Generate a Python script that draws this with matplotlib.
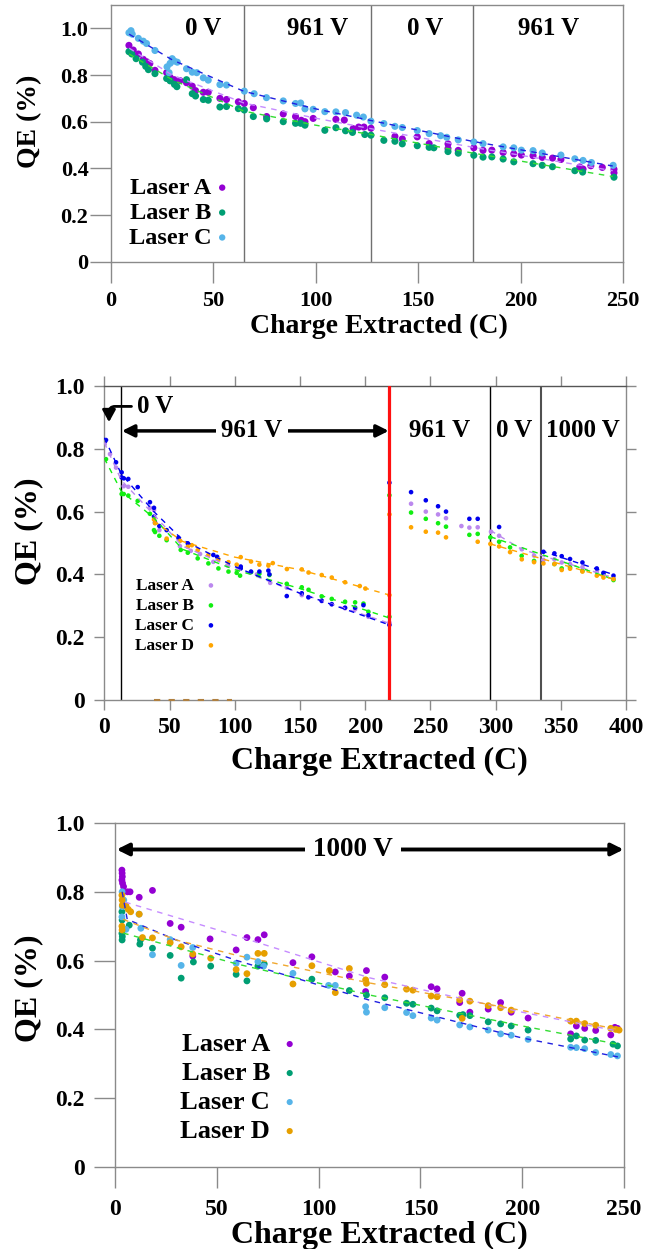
import matplotlib
matplotlib.use("Agg")
import matplotlib.pyplot as plt
import numpy as np
from matplotlib.ticker import FuncFormatter

plt.rcParams['font.family'] = ['Liberation Serif', 'DejaVu Serif']
plt.rcParams['font.weight'] = 'bold'

# ---------------- data: top panel (Lasers A-C) ----------------
top_A = [(8.9,0.927),(11,0.907),(13.5,0.89),(15.9,0.867),(17.5,0.857),(19.1,0.849),(21.6,0.82),
         (27.3,0.81),(29,0.79),(31,0.78),(33.8,0.776),(37,0.767),(39.8,0.752),(41.4,0.733),(45.2,0.726),
         (47.6,0.726),(53.3,0.70),(56.5,0.695),(62.3,0.685),(65.2,0.678),(69.6,0.66),(76.1,0.622),
         (84.2,0.633),(90.2,0.622),(93,0.606),(94.8,0.60),(98.8,0.614),(109.9,0.61),(114,0.607),
         (118.3,0.57),(121,0.577),(123.6,0.577),(127,0.572),(138.7,0.537),(142.3,0.526),(149.6,0.535),
         (155.4,0.506),(164.6,0.505),(164.6,0.485),(169.6,0.477),(177.2,0.488),(181.7,0.477),(186,0.478),
         (191.5,0.468),(196.7,0.462),(200.4,0.457),(206.1,0.454),(210.6,0.447),(215.6,0.444),(219.7,0.438),
         (228.9,0.406),(230.5,0.397),(234.3,0.411),(239.9,0.404),(245.6,0.396),(245.6,0.381)]
top_B = [(8.9,0.90),(10.3,0.89),(12.4,0.87),(15.5,0.855),(17.1,0.837),(18.4,0.823),(21.6,0.806),
         (27.3,0.785),(29,0.775),(31.1,0.76),(32.3,0.75),(37,0.78),(39.8,0.72),(41.4,0.71),(45.2,0.695),
         (47.6,0.692),(53.3,0.663),(56.5,0.665),(62.3,0.656),(65.2,0.65),(69.6,0.622),(76.1,0.612),
         (84.2,0.60),(90.2,0.593),(92.7,0.593),(94.8,0.585),(104.5,0.563),(109.9,0.574),(114.6,0.561),
         (118,0.554),(124,0.545),(127,0.542),(133.3,0.52),(138.7,0.516),(142.3,0.505),(149.6,0.497),
         (155.4,0.49),(157.7,0.488),(164.6,0.472),(169.6,0.465),(177.2,0.456),(181.7,0.448),(186,0.449),
         (191.5,0.44),(196.7,0.428),(206.1,0.42),(210.6,0.413),(215.6,0.407),(226.5,0.39),(230.3,0.384),
         (245.6,0.362)]
top_C = [(8.9,0.981),(9.9,0.99),(10.5,0.975),(13.5,0.957),(15.9,0.945),(17.5,0.935),(21.6,0.905),
         (27.5,0.835),(28.5,0.81),(29,0.85),(30,0.87),(31,0.86),(32.5,0.855),(37,0.827),(39.8,0.812),
         (42,0.81),(45.2,0.788),(47.6,0.778),(53.3,0.759),(56.5,0.757),(65.2,0.731),(70,0.72),(76,0.703),
         (84.2,0.689),(90.2,0.678),(92.7,0.68),(94.8,0.655),(98.8,0.653),(104.5,0.643),(109.9,0.642),
         (114.6,0.639),(120,0.628),(123.3,0.62),(127,0.602),(133.3,0.592),(138.7,0.58),(142.3,0.575),
         (149.6,0.562),(155.4,0.549),(161,0.54),(164,0.533),(169.6,0.522),(177.2,0.513),(181.7,0.506),
         (191.5,0.492),(196.7,0.488),(200.4,0.478),(206.1,0.476),(210.6,0.466),(219.7,0.457),(226.5,0.441),
         (230.5,0.434),(234.6,0.425),(245.2,0.413)]
top_fit_x = [9, 30, 65, 100, 127, 177, 245]
top_fit_A = [0.915, 0.80, 0.68, 0.615, 0.57, 0.49, 0.39]
top_fit_B = [0.89, 0.78, 0.645, 0.585, 0.545, 0.465, 0.365]
top_fit_C = [0.975, 0.865, 0.73, 0.655, 0.605, 0.515, 0.41]
top_bounds = [65, 127, 177]
top_labels = [(45, '0 V'), (101, '961 V'), (153.5, '0 V'), (213.5, '961 V')]

# ---------------- data: middle panel (Lasers A-D) ----------------
mid_A = [(0.3,0.815),(4.4,0.783),(9,0.74),(14.9,0.681),(18.4,0.679),(35,0.612),(38.1,0.605),(42.2,0.541),
         (58,0.49),(66.3,0.475),(73.4,0.465),(83.6,0.44),(94.6,0.428),(102.8,0.418),(117,0.40),(127.2,0.373),
         (139.9,0.358),(151.4,0.334),(156.6,0.328),(166.7,0.315),(174.4,0.305),(184.6,0.292),(192.3,0.289),
         (202.5,0.265),(218.6,0.246),
         (235.2,0.625),(246.5,0.60),(255.9,0.591),(262,0.579),(273.8,0.554),(279.9,0.549),(286.3,0.55),
         (296.5,0.536),(302.7,0.523),(320.1,0.48),(329.5,0.46),(336.7,0.446),(345.1,0.448),(350.7,0.438),
         (357.1,0.433),(366.6,0.423),(377.6,0.408),(382.7,0.398),(390.4,0.388)]
mid_B = [(1.3,0.767),(13.3,0.656),(14.9,0.656),(18.4,0.651),(25.6,0.634),(35,0.593),(38.1,0.541),(38.9,0.535),
         (42.2,0.523),(47.8,0.509),(58.6,0.478),(64,0.469),(71.6,0.451),(79.8,0.435),(87.5,0.419),(95.2,0.409),
         (101.5,0.405),(104.1,0.396),(112.5,0.407),(118.9,0.402),(126.6,0.398),(139.9,0.37),(151.4,0.359),
         (156.6,0.351),(166.7,0.33),(174.4,0.322),(184.6,0.313),(192.3,0.311),(198.7,0.307),(202.5,0.281),
         (218.6,0.265),(218.6,0.652),
         (235.2,0.597),(246.5,0.577),(255.9,0.563),(262,0.552),(279.9,0.526),(286.3,0.529),(296,0.518),
         (302.7,0.504),(311.1,0.486),(320,0.459),(329.5,0.443),(345.1,0.433),(350.7,0.419),(357.1,0.422),
         (366.6,0.411),(382.7,0.401),(390.4,0.382)]
mid_C = [(1.3,0.828),(9,0.757),(13.3,0.725),(13.3,0.709),(14.9,0.706),(18.4,0.704),(25.6,0.678),(35,0.63),
         (38.1,0.612),(38.1,0.584),(38.9,0.565),(42.2,0.554),(47.8,0.541),(56.8,0.517),(64,0.499),(83.6,0.462),
         (86.5,0.456),(104.6,0.419),(104.6,0.425),(112.5,0.409),(118.9,0.409),(125.8,0.412),(126.6,0.40),
         (139.9,0.331),(151.4,0.34),(156.5,0.327),(166.7,0.316),(174.4,0.305),(184.6,0.294),(192.3,0.294),
         (198.7,0.302),(202.5,0.27),(218.6,0.239),(218.6,0.692),
         (235.2,0.662),(246.5,0.636),(255.9,0.617),(262,0.60),(279.9,0.577),(286.3,0.577),(302.7,0.551),
         (336.7,0.472),(345.1,0.467),(350.7,0.458),(357.1,0.449),(366.6,0.438),(377.6,0.419),(382.7,0.405),
         (390.4,0.396)]
mid_D = [(38.1,0.575),(38.9,0.563),(47.8,0.514),(58.1,0.507),(64,0.488),(67.1,0.493),(71.6,0.477),(79.8,0.462),
         (87.5,0.448),(95.2,0.439),(101.5,0.431),(104.6,0.455),(112.5,0.441),(118.9,0.431),(125.8,0.428),
         (129.2,0.436),(140,0.417),(151.4,0.416),(156.6,0.406),(166.7,0.398),(174.4,0.39),(184.6,0.375),
         (195.9,0.363),(200.2,0.355),(218.6,0.334),(218.6,0.591),
         (235.2,0.55),(246.5,0.536),(255.9,0.533),(262,0.518),(286.3,0.504),(296,0.497),(302.7,0.489),
         (311.1,0.471),(320.1,0.448),(329.5,0.439),(336.7,0.435),(345.1,0.433),(350.7,0.414),(357.1,0.418),
         (366.6,0.409),(377.6,0.396),(382.7,0.39),(390.4,0.385)]
mid_fit1_x = [0, 13, 38, 60, 100, 150, 218]
mid_fit1_A = [0.82, 0.70, 0.59, 0.49, 0.42, 0.34, 0.245]
mid_fit1_B = [0.77, 0.665, 0.58, 0.48, 0.415, 0.355, 0.262]
mid_fit1_C = [0.835, 0.72, 0.60, 0.51, 0.425, 0.34, 0.24]
mid_fit1_D_x = [38, 60, 100, 150, 218]
mid_fit1_D = [0.57, 0.505, 0.455, 0.415, 0.335]
mid_fit2_A_x, mid_fit2_A = [296, 320, 390], [0.54, 0.48, 0.39]
mid_fit2_B_x, mid_fit2_B = [296, 390], [0.52, 0.385]
mid_fit2_C_x, mid_fit2_C = [335, 390], [0.475, 0.40]
mid_fit2_D_x, mid_fit2_D = [296, 390], [0.497, 0.385]
mid_stray_x, mid_stray_y = [38, 98], [0.0, 0.0]
mid_black_lines = [13, 296]
mid_gray_line = 335
mid_red_line = 218.6
mid_labels = [(257.4, '961 V'), (314.4, '0 V'), (366.8, '1000 V')]

# ---------------- data: bottom panel (Lasers A-D) ----------------
bot_A = [(3.4,0.863),(3.5,0.854),(3.6,0.844),(3.4,0.834),(3.7,0.825),(4.2,0.815),(6.1,0.80),(7.4,0.80),
         (11.9,0.784),(18.4,0.804),(27.1,0.708),(32.5,0.697),(38.2,0.613),(46.7,0.663),(59.5,0.631),
         (64.8,0.667),(70.2,0.661),(73.3,0.675),(87.4,0.594),(96.7,0.611),(108.2,0.567),(115.1,0.555),
         (123.5,0.571),(123.1,0.51),(132.5,0.552),(155.3,0.524),(158.2,0.518),(170.5,0.505),(169.3,0.478),
         (174.3,0.45),(183.3,0.459),(189.4,0.478),(194.6,0.45),(202.9,0.433),(223.8,0.387),(226.6,0.41),
         (230.7,0.403),(236.1,0.397),(243.5,0.384),(245.5,0.406),(246.8,0.403)]
bot_B = [(3.4,0.742),(3.5,0.718),(3.4,0.679),(3.6,0.67),(3.5,0.66),(7,0.703),(12.2,0.648),(12.5,0.66),
         (18.4,0.636),(27.1,0.615),(32.5,0.549),(38.5,0.596),(47,0.584),(59.5,0.56),(64.8,0.541),(70.2,0.584),
         (73.3,0.59),(96.7,0.546),(115.1,0.513),(123.5,0.50),(132.5,0.492),(143.2,0.476),(146.3,0.473),
         (155.3,0.462),(158.2,0.454),(169.3,0.441),(170.9,0.443),(174.3,0.44),(183.3,0.422),(189.4,0.416),
         (194.6,0.41),(202.9,0.398),(223.8,0.372),(226.6,0.381),(230.7,0.369),(236.1,0.368),(244.6,0.357),
         (246.8,0.352)]
bot_C = [(3.5,0.80),(3.6,0.757),(3.4,0.727),(3.7,0.693),(4.3,0.776),(5.4,0.691),(11.8,0.735),(12.7,0.694),
         (18.4,0.617),(27.1,0.661),(32.5,0.586),(38.2,0.638),(59.5,0.592),(64.8,0.61),(70.2,0.597),(73,0.584),
         (87.4,0.563),(104.9,0.528),(108.2,0.528),(123.1,0.466),(123.5,0.45),(132.5,0.463),(143.2,0.449),
         (146.3,0.44),(155.3,0.433),(158.2,0.427),(169.3,0.413),(174.3,0.407),(183.3,0.398),(189.4,0.387),
         (194.6,0.383),(202.9,0.371),(223.8,0.348),(226.6,0.347),(230.7,0.344),(236.1,0.333),(243.5,0.327),
         (246.8,0.323)]
bot_D = [(3.4,0.79),(3.5,0.776),(3.6,0.761),(3.4,0.70),(3.5,0.689),(5.4,0.759),(6.5,0.749),(7.7,0.742),
         (11.9,0.735),(13.5,0.667),(18.4,0.666),(27.1,0.652),(32.5,0.64),(38.2,0.619),(47,0.607),(59.5,0.574),
         (64.8,0.562),(70.2,0.621),(73.3,0.621),(87.4,0.532),(96.7,0.585),(105.3,0.571),(108.2,0.507),
         (115.1,0.577),(123.1,0.544),(123.5,0.534),(132.5,0.53),(143.2,0.517),(146.3,0.514),(155.3,0.497),
         (158.2,0.495),(169.3,0.486),(170.5,0.432),(174.3,0.482),(183.3,0.469),(189.4,0.463),(194.6,0.456),
         (223.8,0.424),(226.6,0.424),(230.7,0.417),(236.1,0.412),(243.5,0.403),(246,0.40),(247.6,0.398)]
bot_fit_A_x, bot_fit_A = [5, 50, 125, 200, 247], [0.77, 0.69, 0.55, 0.45, 0.395]
bot_fit_B_x, bot_fit_B = [4, 60, 125, 200, 247], [0.68, 0.59, 0.50, 0.41, 0.357]
bot_fit_C_x, bot_fit_C = [3.5, 6, 30, 60, 125, 200, 247], [0.80, 0.72, 0.66, 0.60, 0.485, 0.375, 0.32]
bot_fit_D_x, bot_fit_D = [4, 30, 60, 125, 200, 247], [0.72, 0.66, 0.615, 0.535, 0.455, 0.40]

lasers3 = ['Laser A', 'Laser B', 'Laser C']
lasers4 = ['Laser A', 'Laser B', 'Laser C', 'Laser D']
y_ticks = [0, 0.2, 0.4, 0.6, 0.8, 1.0]

# colours
dot_dark = ['#9400D3', '#009E73', '#56B4E9', '#E69F00']
fit_dark = ['#C68CFF', '#33DD33', '#2020E0', '#F0A830']
dot_bright = ['#BB88EE', '#11EE11', '#0000EE', '#FFA500']

W, H = 657, 1249
fig = plt.figure(figsize=(W / 100, H / 100), dpi=100)


def add_axes_px(l, t, r, b):
    return fig.add_axes([l / W, 1 - b / H, (r - l) / W, (b - t) / H])


def ytickfmt(v, _):
    return '0' if abs(v) < 1e-9 else f'{v:.1f}'


FRAME = '#8a8a8a'


def style(ax, tick_len, lab_size, pad_x, pad_y, both_sides=False):
    for s in ax.spines.values():
        s.set_color(FRAME)
        s.set_linewidth(1.0)
    ax.set_yticks(y_ticks)
    ax.yaxis.set_major_formatter(FuncFormatter(ytickfmt))
    ax.tick_params(axis='both', direction='out', length=tick_len, width=1.0, color=FRAME,
                   labelsize=lab_size)
    ax.tick_params(axis='x', pad=pad_x)
    ax.tick_params(axis='y', pad=pad_y)
    if both_sides:
        ax.tick_params(top=True, right=True, labeltop=False, labelright=False)


def unzip(pairs):
    a = np.array(pairs)
    return a[:, 0], a[:, 1]


# ======================= top panel =======================
ax1 = add_axes_px(110.7, 5, 623, 261.7)
ax1.set_xlim(0, 250)
ax1.set_ylim(0, 1.1)
style(ax1, 15, 16, 6, 1)
for xb in top_bounds:
    ax1.axvline(xb, color='#707070', lw=1.0, zorder=1)
for series, col, lab in zip([top_A, top_B, top_C], dot_dark[:3], lasers3):
    x, y = unzip(series)
    ax1.scatter(x, y, s=26, color=col, edgecolors='none', label=lab, zorder=2)
for fy, col in zip([top_fit_A, top_fit_B, top_fit_C], fit_dark[:3]):
    ax1.plot(top_fit_x, fy, ls=(0, (4, 4)), lw=1.0, color=col, zorder=3)
for xl, t in top_labels:
    ax1.text(xl, 1.0, t, ha='center', va='center', fontsize=18, fontweight='bold')
ax1.legend(loc='upper left', bbox_to_anchor=(0.035, 0.33), markerfirst=False, frameon=False,
           fontsize=17.5, handlelength=0.5, handletextpad=0.2, labelspacing=0.12, borderpad=0,
           borderaxespad=0, scatterpoints=1, markerscale=0.9)
ax1.set_xlabel('Charge Extracted (C)', fontsize=20, fontweight='bold')
ax1.set_ylabel('QE (%)', fontsize=20, fontweight='bold')
ax1.xaxis.set_label_coords(0.523, -0.205)
ax1.yaxis.set_label_coords(-0.133, 0.546)

# ======================= middle panel =======================
ax2 = add_axes_px(104.3, 386, 626, 700)
ax2.set_xlim(0, 400)
ax2.set_ylim(0, 1.0)
ax2.set_xticks(np.arange(0, 401, 50))
style(ax2, 7, 17, 5, 7, both_sides=True)
ax2.spines['top'].set_color('#555555')
for xb in mid_black_lines:
    ax2.axvline(xb, color='black', lw=1.0, zorder=1)
ax2.axvline(mid_gray_line, color='#505050', lw=1.5, zorder=1)
ax2.axvline(mid_red_line, color='#FF1010', lw=2.3, zorder=4)
for series, col, lab in zip([mid_A, mid_B, mid_C, mid_D], dot_bright, lasers4):
    x, y = unzip(series)
    ax2.scatter(x, y, s=11, color=col, edgecolors='none', label=lab, zorder=2)
ax2.plot(mid_fit1_x, mid_fit1_A, ls=(0, (4, 4)), lw=1.0, color=dot_bright[0], zorder=3)
ax2.plot(mid_fit1_x, mid_fit1_B, ls=(0, (4, 4)), lw=1.0, color=dot_bright[1], zorder=3)
ax2.plot(mid_fit1_x, mid_fit1_C, ls=(0, (4, 4)), lw=1.0, color=dot_bright[2], zorder=3)
ax2.plot(mid_fit1_D_x, mid_fit1_D, ls=(0, (4, 4)), lw=1.0, color=dot_bright[3], zorder=3)
ax2.plot(mid_fit2_A_x, mid_fit2_A, ls=(0, (4, 4)), lw=1.0, color=dot_bright[0], zorder=3)
ax2.plot(mid_fit2_B_x, mid_fit2_B, ls=(0, (4, 4)), lw=1.0, color=dot_bright[1], zorder=3)
ax2.plot(mid_fit2_C_x, mid_fit2_C, ls=(0, (4, 4)), lw=1.0, color=dot_bright[2], zorder=3)
ax2.plot(mid_fit2_D_x, mid_fit2_D, ls=(0, (4, 4)), lw=1.0, color=dot_bright[3], zorder=3)
ax2.plot(mid_stray_x, mid_stray_y, ls=(0, (3, 4)), lw=1.5, color='#B08040', zorder=3, clip_on=False)
for xl, t in mid_labels:
    ax2.text(xl, 0.857, t, ha='center', va='center', fontsize=18, fontweight='bold')
# 0 V elbow arrow
ax2.annotate('0 V', xy=(3.6, 0.885), xytext=(39, 0.935), ha='center', va='center',
             fontsize=18, fontweight='bold',
             arrowprops=dict(arrowstyle='-|>,head_length=0.4,head_width=0.22', lw=2.0, color='black',
                             connectionstyle='angle,angleA=0,angleB=90,rad=6',
                             shrinkA=2, shrinkB=0, mutation_scale=18))
# 961 V double arrow
ax2.annotate('', xy=(mid_black_lines[0] + 0.5, 0.857), xytext=(mid_red_line - 0.5, 0.857),
             arrowprops=dict(arrowstyle='<|-|>,head_length=0.4,head_width=0.2', lw=2.5, color='black',
                             shrinkA=0, shrinkB=0, mutation_scale=18))
ax2.text(113, 0.857, '961 V', ha='center', va='center', fontsize=18, fontweight='bold', zorder=5,
         bbox=dict(facecolor='white', edgecolor='none', pad=4))
ax2.legend(loc='upper left', bbox_to_anchor=(0.058, 0.389), markerfirst=False, frameon=False,
           fontsize=12.5, handlelength=1.0, handletextpad=0.5, labelspacing=0.22, borderpad=0,
           borderaxespad=0, scatterpoints=1)
ax2.set_xlabel('Charge Extracted (C)', fontsize=23, fontweight='bold')
ax2.set_ylabel('QE (%)', fontsize=23, fontweight='bold')
ax2.xaxis.set_label_coords(0.527, -0.15)
ax2.yaxis.set_label_coords(-0.1175, 0.539)

# ======================= bottom panel =======================
ax3 = add_axes_px(115, 823, 624, 1167)
ax3.set_xlim(0, 250)
ax3.set_ylim(0, 1.0)
style(ax3, 15, 17, 8, 7)
for series, col, lab in zip([bot_A, bot_B, bot_C, bot_D], dot_dark, lasers4):
    x, y = unzip(series)
    ax3.scatter(x, y, s=24, color=col, edgecolors='none', label=lab, zorder=2)
ax3.plot(bot_fit_A_x, bot_fit_A, ls=(0, (4, 4)), lw=1.0, color=fit_dark[0], zorder=3)
ax3.plot(bot_fit_B_x, bot_fit_B, ls=(0, (4, 4)), lw=1.0, color=fit_dark[1], zorder=3)
ax3.plot(bot_fit_C_x, bot_fit_C, ls=(0, (4, 4)), lw=1.0, color=fit_dark[2], zorder=3)
ax3.plot(bot_fit_D_x, bot_fit_D, ls=(0, (4, 4)), lw=1.0, color=fit_dark[3], zorder=3)
ax3.annotate('', xy=(0.8, 0.923), xytext=(249.8, 0.923),
             arrowprops=dict(arrowstyle='<|-|>,head_length=0.4,head_width=0.2', lw=2.8, color='black',
                             shrinkA=0, shrinkB=0, mutation_scale=18))
ax3.text(117, 0.923, '1000 V', ha='center', va='center', fontsize=19.5, fontweight='bold', zorder=5,
         bbox=dict(facecolor='white', edgecolor='none', pad=6))
ax3.legend(loc='upper left', bbox_to_anchor=(0.128, 0.391), markerfirst=False, frameon=False,
           fontsize=19, handlelength=0.8, handletextpad=0.35, labelspacing=0.21, borderpad=0,
           borderaxespad=0, scatterpoints=1, markerscale=0.9)
ax3.set_xlabel('Charge Extracted (C)', fontsize=23, fontweight='bold')
ax3.set_ylabel('QE (%)', fontsize=23, fontweight='bold')
ax3.xaxis.set_label_coords(0.519, -0.157)
ax3.yaxis.set_label_coords(-0.1415, 0.52)

fig.savefig('out.png', dpi=100)
